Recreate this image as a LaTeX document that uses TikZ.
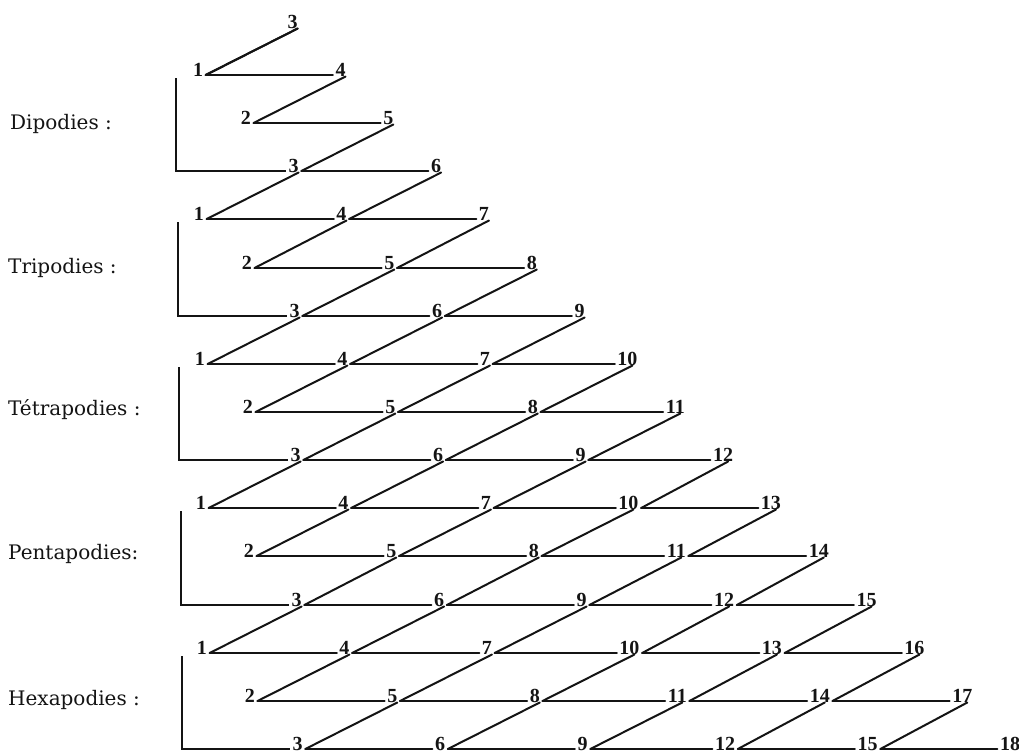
\documentclass[tikz,border=0pt]{standalone}
\usepackage{fontspec}
\setmainfont{DejaVu Serif}
\newfontfamily\numfont{Liberation Serif}
\usetikzlibrary{calc}
\definecolor{ink}{RGB}{20,20,20}
\tikzset{
  num/.style={font=\numfont\bfseries\fontsize{20}{21}\selectfont, text=ink, inner sep=0pt, anchor=south},
  lbl/.style={font=\fontsize{20}{21}\selectfont, text=ink, inner sep=0pt, anchor=base west},
  ln/.style={draw=ink, line width=2pt, line cap=round},
  brk/.style={draw=ink, line width=2pt, line join=miter},
}
\def\dy{48.14}
\begin{document}
\begin{tikzpicture}[x=1pt,y=-1pt]
\useasboundingbox[fill=white] (0,0) rectangle (1019,753);
% top number of the (implicit) first group
\node[num] (n1-3) at ({198-0.33+47.5*2}, {27+1.5}) {3};
% numbers
\foreach \g in {2,...,6}{
  \pgfmathtruncatemacro\last{\g-1}
  \foreach \r in {1,2,3}{
    \foreach \k in {0,...,\last}{
      \pgfmathtruncatemacro\n{\r+3*\k}
      \pgfmathsetmacro\R{3*(\g-2)+\r-1}
      \pgfmathsetmacro\Y{round(75+\dy*\R)+1.5}
      \node[num] (n\g-\n) at ({198+0.33*\R+47.5*(\n-1)}, \Y) {\n};
    }
  }
}
% horizontal and diagonal connectors
\foreach \g in {2,...,6}{
  \pgfmathtruncatemacro\lastm{\g-2}
  \foreach \r in {1,2,3}{
    \foreach \k in {0,...,\lastm}{
      \pgfmathtruncatemacro\n{\r+3*\k}
      \pgfmathtruncatemacro\m{\n+3}
      \pgfmathtruncatemacro\d{\n+2}
      \pgfmathtruncatemacro\tg{\r==1 ? \g-1 : \g}
      \draw[ln] ($(n\g-\n.south east)+(2.5,-1.5)$) -- ($(n\g-\m.south west)+(-2.5,-1.5)$);
      \draw[ln] ($(n\g-\n.south east)+(2.5,-1.5)$) -- ($(n\tg-\d.south)+(5,0)$);
    }
  }
}
% dipodies row 1 diagonal to the top 3
\draw[ln] ($(n2-1.south east)+(2.5,-1.5)$) -- ($(n1-3.south)+(5,0)$);
% brackets
\foreach \g in {2,...,6}{
  \pgfmathsetmacro\bx{round(176+1.5*(\g-2))}
  \pgfmathsetmacro\by{round(75+\dy*3*(\g-2))+3}
  \coordinate (b\g) at (\bx,\by);
  \draw[brk] (b\g) |- ($(n\g-3.south west)+(-2.5,-1.5)$);
}
% labels
\node[lbl] (L2) at (10, {75+\dy*1+6}) {Dipodies :};
\node[lbl] (L3) at (8, {75+\dy*4+6}) {Tripodies :};
\node[lbl] (L4) at (8, {75+\dy*7+4}) {Tétrapodies :};
\node[lbl] (L5) at (8, {75+\dy*10+3}) {Pentapodies:};
\node[lbl] (L6) at (8, {75+\dy*13+5}) {Hexapodies :};
\end{tikzpicture}
\end{document}
